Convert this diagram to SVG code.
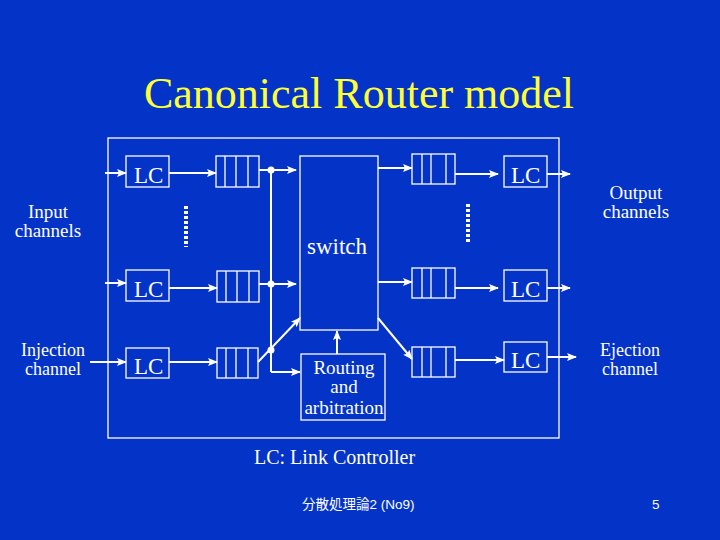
<svg xmlns="http://www.w3.org/2000/svg" width="720" height="540" viewBox="0 0 720 540">
<defs>
<marker id="ah" markerWidth="10" markerHeight="8" refX="9" refY="4" orient="auto" markerUnits="userSpaceOnUse">
<path d="M0,0 L10,4 L0,8 L2,4 Z" fill="#ffffff"/>
</marker>
<style>
.bx{fill:none;stroke:#ffffff;stroke-width:1.3}
.ln{fill:none;stroke:#ffffff;stroke-width:2}
.ar{fill:none;stroke:#ffffff;stroke-width:2;marker-end:url(#ah)}
.t{font-family:"Liberation Serif","Times New Roman",serif;fill:#ffffff}
.lc{font-size:23px}
.lb{font-size:19px;text-anchor:middle}
.sm{font-size:18px}
.dot{fill:#ffffff}
.dt{stroke:#ffffff;stroke-width:4;stroke-dasharray:3,2}
</style>
</defs>
<rect width="720" height="540" fill="#0433c8"/>
<text x="359" y="108" font-family="'Liberation Serif','Times New Roman',serif" font-size="44" fill="#ffff33" text-anchor="middle">Canonical Router model</text>
<rect class="bx" x="108" y="138" width="451" height="300"/>

<g id="lc-in-1"><rect class="bx" x="126" y="156" width="43" height="31"/><text class="t lc" x="134" y="183">LC</text></g>
<g id="lc-in-2"><rect class="bx" x="126" y="270" width="43" height="31"/><text class="t lc" x="134" y="297">LC</text></g>
<g id="lc-in-3"><rect class="bx" x="126" y="348" width="43" height="30"/><text class="t lc" x="134" y="374">LC</text></g>

<g id="q-in-1"><rect class="bx" x="216" y="156" width="43" height="31"/><path class="bx" d="M225,156V187M236,156V187M248,156V187"/></g>
<g id="q-in-2"><rect class="bx" x="217" y="271" width="42" height="31"/><path class="bx" d="M226,271V302M237,271V302M249,271V302"/></g>
<g id="q-in-3"><rect class="bx" x="217" y="348" width="41" height="30"/><path class="bx" d="M226,348V378M236,348V378M248,348V378"/></g>

<g id="switch"><rect class="bx" x="300" y="156" width="78" height="174"/><text class="t" x="307" y="254" font-size="23">switch</text></g>
<g id="routing"><rect class="bx" x="301" y="354" width="84" height="66"/>
<text class="t lb" x="344" y="374">Routing</text><text class="t lb" x="344" y="393">and</text><text class="t lb" x="344" y="414">arbitration</text></g>

<g id="q-out-1"><rect class="bx" x="412" y="154" width="43" height="30"/><path class="bx" d="M422,154V184M431,154V184M446,154V184"/></g>
<g id="q-out-2"><rect class="bx" x="412" y="268" width="43" height="30"/><path class="bx" d="M422,268V298M431,268V298M446,268V298"/></g>
<g id="q-out-3"><rect class="bx" x="412" y="347" width="43" height="30"/><path class="bx" d="M422,347V377M431,347V377M446,347V377"/></g>

<g id="lc-out-1"><rect class="bx" x="504" y="156" width="43" height="31"/><text class="t lc" x="511" y="183">LC</text></g>
<g id="lc-out-2"><rect class="bx" x="504" y="270" width="43" height="31"/><text class="t lc" x="511" y="297">LC</text></g>
<g id="lc-out-3"><rect class="bx" x="504" y="342" width="43" height="30"/><text class="t lc" x="511" y="368">LC</text></g>

<g id="labels">
<text class="t lb" x="48" y="218">Input</text><text class="t lb" x="48" y="237">channels</text>
<text class="t lb sm" x="53" y="356">Injection</text><text class="t lb sm" x="53" y="375">channel</text>
<text class="t lb" x="636" y="199">Output</text><text class="t lb" x="636" y="218">channels</text>
<text class="t lb sm" x="630" y="356">Ejection</text><text class="t lb sm" x="630" y="375">channel</text>
<text class="t" x="254" y="464" font-size="20">LC: Link Controller</text>
<text x="302" y="509" font-family="'Liberation Sans','Noto Sans CJK JP',sans-serif" font-size="13.5" fill="#ffffff">分散処理論2 (No9)</text>
<text x="652" y="509" font-family="'Liberation Sans',sans-serif" font-size="13.5" fill="#ffffff">5</text>
</g>

<g id="connectors">
<line class="ar" x1="105" y1="173" x2="126" y2="173"/>
<line class="ar" x1="105" y1="283" x2="126" y2="283"/>
<line class="ar" x1="90" y1="362" x2="126" y2="362"/>
<line class="ar" x1="169" y1="173" x2="216" y2="173"/>
<line class="ar" x1="169" y1="288" x2="217" y2="288"/>
<line class="ar" x1="169" y1="362" x2="217" y2="362"/>
<line class="ar" x1="259" y1="170" x2="296" y2="170"/>
<line class="ar" x1="259" y1="284" x2="296" y2="284"/>
<line class="ar" x1="258" y1="362" x2="300" y2="318"/>
<path class="ln" d="M271,170V372" stroke-width="1.5"/>
<line class="ar" x1="271" y1="372" x2="300" y2="372"/>
<circle class="dot" cx="271" cy="170" r="3.5"/>
<circle class="dot" cx="271" cy="284" r="3.5"/>
<circle class="dot" cx="271" cy="350" r="3.5"/>
<line class="ar" x1="337" y1="354" x2="337" y2="331"/>
<line class="ar" x1="378" y1="168" x2="412" y2="168"/>
<line class="ar" x1="378" y1="282" x2="412" y2="282"/>
<line class="ar" x1="378" y1="318" x2="412" y2="359"/>
<line class="ar" x1="455" y1="174" x2="498" y2="174"/>
<line class="ar" x1="455" y1="288" x2="498" y2="288"/>
<line class="ar" x1="455" y1="360" x2="504" y2="360"/>
<line class="ar" x1="547" y1="174" x2="570" y2="174"/>
<line class="ar" x1="547" y1="288" x2="570" y2="288"/>
<line class="ar" x1="547" y1="357" x2="576" y2="357"/>
<line class="dt" x1="186" y1="206" x2="186" y2="247"/>
<line class="dt" x1="468" y1="204" x2="468" y2="244"/>
</g>
</svg>
